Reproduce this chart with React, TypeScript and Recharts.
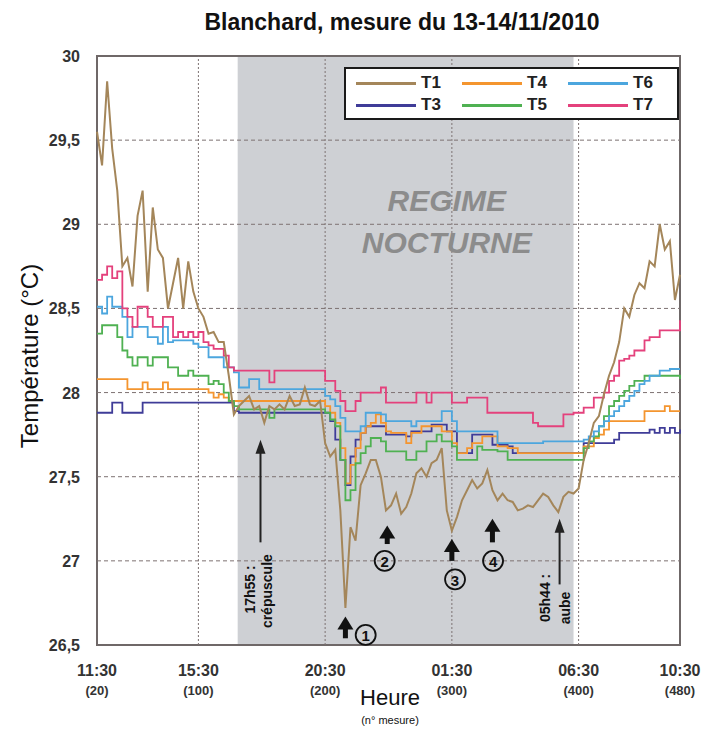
import React from 'react';
import { LineChart, Line, XAxis, YAxis, ReferenceArea, ReferenceLine, ReferenceDot } from 'recharts';

const FONT = '"Liberation Sans", Arial, sans-serif';

// n° mesure (one reading every 3 minutes), sampled every 4 readings
const measures = [
  20, 24, 28, 32, 36, 40, 44, 48, 52, 56,
  60, 64, 68, 72, 76, 80, 84, 88, 92, 96,
  100, 104, 108, 112, 116, 120, 124, 128, 132, 136,
  140, 144, 148, 152, 156, 160, 164, 168, 172, 176,
  180, 184, 188, 192, 196, 200, 204, 208, 212, 216,
  220, 224, 228, 232, 236, 240, 244, 248, 252, 256,
  260, 264, 268, 272, 276, 280, 284, 288, 292, 296,
  300, 304, 308, 312, 316, 320, 324, 328, 332, 336,
  340, 344, 348, 352, 356, 360, 364, 368, 372, 376,
  380, 384, 388, 392, 396, 400, 404, 408, 412, 416,
  420, 424, 428, 432, 436, 440, 444, 448, 452, 456,
  460, 464, 468, 472, 476, 480,
];

const t1 = [
  29.55, 29.35, 29.85, 29.45, 29.2, 28.75, 28.8, 28.63, 29.05, 29.2,
  28.6, 29.1, 28.85, 28.8, 28.5, 28.65, 28.8, 28.5, 28.78, 28.6,
  28.5, 28.45, 28.35, 28.36, 28.3, 28.3, 28.1, 27.87, 27.92, 27.95,
  27.98, 27.9, 27.92, 27.82, 27.92, 27.9, 27.93, 27.9, 27.98, 27.92,
  27.93, 28.03, 27.93, 27.92, 27.95, 27.7, 27.62, 27.66, 27.3, 26.72,
  27.2, 27.12, 27.45, 27.52, 27.6, 27.6, 27.5, 27.3, 27.33, 27.4,
  27.28, 27.32, 27.4, 27.52, 27.55, 27.5, 27.58, 27.6, 27.67, 27.3,
  27.18, 27.26, 27.36, 27.42, 27.48, 27.43, 27.46, 27.54, 27.42, 27.36,
  27.4, 27.36, 27.35, 27.3, 27.31, 27.33, 27.32, 27.36, 27.4, 27.38,
  27.33, 27.29, 27.38, 27.41, 27.4, 27.43, 27.6, 27.7, 27.82, 27.86,
  27.99, 28.1, 28.18, 28.3, 28.5, 28.45, 28.58, 28.65, 28.62, 28.78,
  28.75, 29.0, 28.85, 28.9, 28.55, 28.7,
];

const t3 = [
  27.88, 27.88, 27.88, 27.94, 27.94, 27.88, 27.88, 27.88, 27.88, 27.94,
  27.94, 27.94, 27.94, 27.94, 27.94, 27.94, 27.94, 27.94, 27.94, 27.94,
  27.94, 27.94, 27.94, 27.94, 27.94, 27.94, 27.94, 27.89, 27.88, 27.88,
  27.88, 27.88, 27.88, 27.88, 27.88, 27.88, 27.88, 27.88, 27.88, 27.88,
  27.88, 27.88, 27.88, 27.88, 27.88, 27.88, 27.83, 27.72, 27.6, 27.45,
  27.62, 27.72, 27.76, 27.8, 27.8, 27.8, 27.8, 27.75, 27.75, 27.75,
  27.75, 27.74, 27.77, 27.77, 27.77, 27.77, 27.81, 27.81, 27.81, 27.77,
  27.77, 27.64, 27.64, 27.64, 27.75, 27.75, 27.75, 27.75, 27.69, 27.69,
  27.69, 27.68, 27.64, 27.64, 27.64, 27.64, 27.64, 27.64, 27.64, 27.64,
  27.64, 27.64, 27.64, 27.64, 27.64, 27.64, 27.7, 27.7, 27.7, 27.7,
  27.7, 27.7, 27.72, 27.76, 27.76, 27.76, 27.76, 27.76, 27.76, 27.78,
  27.76, 27.79, 27.76, 27.79, 27.76, 27.78,
];

const t4 = [
  28.08, 28.08, 28.08, 28.08, 28.08, 28.08, 28.02, 28.02, 28.02, 28.06,
  28.02, 28.02, 28.02, 28.06, 28.02, 28.02, 28.02, 28.02, 28.02, 28.02,
  28.02, 28.02, 28.0, 27.97, 27.99, 27.97, 27.95, 27.95, 27.95, 27.95,
  27.95, 27.95, 27.95, 27.95, 27.95, 27.95, 27.95, 27.95, 27.95, 27.95,
  27.95, 27.95, 27.95, 27.95, 27.95, 27.92, 27.88, 27.82, 27.67, 27.46,
  27.57, 27.67, 27.76, 27.8, 27.82, 27.87, 27.82, 27.77, 27.76, 27.76,
  27.76, 27.7, 27.76, 27.76, 27.8, 27.8, 27.8, 27.8, 27.77, 27.77,
  27.7, 27.64, 27.64, 27.67, 27.7, 27.7, 27.74, 27.74, 27.74, 27.68,
  27.68, 27.67, 27.67, 27.64, 27.64, 27.64, 27.64, 27.64, 27.64, 27.64,
  27.64, 27.64, 27.64, 27.64, 27.64, 27.64, 27.68, 27.68, 27.73, 27.75,
  27.78, 27.83, 27.83, 27.83, 27.83, 27.83, 27.83, 27.83, 27.89, 27.89,
  27.89, 27.89, 27.92, 27.89, 27.89, 27.89,
];

const t5 = [
  28.35, 28.4, 28.4, 28.4, 28.33, 28.25, 28.21, 28.16, 28.21, 28.21,
  28.16, 28.21, 28.21, 28.21, 28.15, 28.15, 28.1, 28.1, 28.13, 28.1,
  28.1, 28.1, 28.05, 28.07, 28.05, 28.0, 27.95, 27.92, 27.9, 27.9,
  27.9, 27.9, 27.9, 27.9, 27.85, 27.9, 27.9, 27.9, 27.9, 27.9,
  27.9, 27.9, 27.9, 27.9, 27.9, 27.88, 27.84, 27.8, 27.6, 27.36,
  27.42, 27.58, 27.64, 27.68, 27.73, 27.73, 27.71, 27.65, 27.65, 27.65,
  27.65, 27.6, 27.6, 27.65, 27.65, 27.71, 27.71, 27.75, 27.71, 27.71,
  27.68, 27.6, 27.6, 27.6, 27.6, 27.68, 27.66, 27.66, 27.66, 27.65,
  27.65, 27.6, 27.6, 27.6, 27.6, 27.6, 27.6, 27.6, 27.6, 27.6,
  27.6, 27.6, 27.6, 27.6, 27.6, 27.6, 27.67, 27.71, 27.74, 27.8,
  27.86, 27.92, 27.95, 27.98, 28.01, 28.04, 28.07, 28.07, 28.1, 28.1,
  28.1, 28.1, 28.1, 28.1, 28.1, 28.08,
];

const t6 = [
  28.51, 28.47, 28.57, 28.51, 28.51, 28.45, 28.33, 28.39, 28.39, 28.39,
  28.33, 28.33, 28.29, 28.39, 28.3, 28.31, 28.31, 28.31, 28.31, 28.29,
  28.27, 28.27, 28.21, 28.21, 28.21, 28.15, 28.15, 28.12, 28.03, 28.03,
  28.08, 28.08, 28.02, 28.02, 28.02, 28.02, 28.02, 28.02, 28.02, 28.02,
  28.02, 28.02, 28.02, 28.02, 28.02, 27.98, 27.96, 27.92, 27.85, 27.77,
  27.77, 27.77, 27.8, 27.88, 27.88, 27.88, 27.87, 27.83, 27.83, 27.83,
  27.83, 27.83, 27.8, 27.83, 27.83, 27.83, 27.83, 27.83, 27.89, 27.89,
  27.83, 27.77, 27.77, 27.77, 27.77, 27.77, 27.77, 27.77, 27.77, 27.7,
  27.7, 27.7, 27.7, 27.7, 27.7, 27.7, 27.7, 27.7, 27.71, 27.71,
  27.71, 27.71, 27.71, 27.71, 27.71, 27.71, 27.72, 27.74, 27.77, 27.8,
  27.83, 27.86, 27.89, 27.92, 27.95, 27.98, 28.01, 28.05, 28.07, 28.1,
  28.1, 28.13, 28.13, 28.14, 28.14, 28.14,
];

const t7 = [
  28.67, 28.7, 28.75, 28.68, 28.72, 28.5, 28.45, 28.39, 28.51, 28.51,
  28.45, 28.39, 28.39, 28.45, 28.45, 28.33, 28.36, 28.33, 28.36, 28.33,
  28.36, 28.3, 28.28, 28.26, 28.26, 28.22, 28.15, 28.13, 28.13, 28.13,
  28.13, 28.13, 28.13, 28.13, 28.06, 28.13, 28.13, 28.13, 28.13, 28.13,
  28.13, 28.13, 28.13, 28.13, 28.13, 28.07, 28.07, 28.01, 27.95, 27.89,
  27.89, 27.95, 28.0, 28.0, 28.0, 28.0, 28.03, 27.94, 27.94, 27.94,
  27.94, 27.94, 27.94, 28.0, 28.0, 27.94, 28.0, 28.0, 28.0, 28.0,
  27.94, 27.94, 27.94, 27.97, 27.97, 27.97, 27.97, 27.88, 27.88, 27.88,
  27.88, 27.88, 27.88, 27.88, 27.88, 27.88, 27.82, 27.8, 27.8, 27.8,
  27.8, 27.8, 27.87, 27.87, 27.88, 27.88, 27.91, 27.91, 27.97, 27.97,
  28.0, 28.07, 28.1, 28.19, 28.2, 28.22, 28.25, 28.25, 28.31, 28.33,
  28.33, 28.37, 28.37, 28.37, 28.37, 28.43,
];

const tickMeasures = [20, 100, 200, 300, 400, 480];
const tickTimes = ['11:30', '15:30', '20:30', '01:30', '06:30', '10:30'];
const yTicks = [26.5, 27, 27.5, 28, 28.5, 29, 29.5, 30];
const gridX = [100, 200, 300, 400];
const gridY = [27, 27.5, 28, 28.5, 29, 29.5];
const night = { from: 131, to: 396 };

const series = [
  { key: 'T3', color: '#3f3c98', step: true },
  { key: 'T4', color: '#f4952f', step: true },
  { key: 'T5', color: '#4fb152', step: true },
  { key: 'T6', color: '#4ca6de', step: true },
  { key: 'T7', color: '#e4417c', step: true },
  { key: 'T1', color: '#a4865a', step: false },
];
const legendRows = [
  ['T1', 'T4', 'T6'],
  ['T3', 'T5', 'T7'],
];

// annotations, in data units (n° mesure, °C)
const thinArrows = [
  { m: 149, tip: 27.72, tail: 27.11 },
  { m: 385, tip: 27.25, tail: 26.86 },
];
const boldArrows = [
  { m: 216, tip: 26.67, tail: 26.54 },
  { m: 249, tip: 27.21, tail: 27.1 },
  { m: 300, tip: 27.13, tail: 27.0 },
  { m: 332, tip: 27.25, tail: 27.11 },
];
const circled = [
  { n: '1', m: 232, v: 26.56 },
  { n: '2', m: 247, v: 27.0 },
  { n: '3', m: 302.5, v: 26.89 },
  { n: '4', m: 332.5, v: 27.0 },
];
const sideNotes = [
  { text: '17h55 :', m: 140.7, v: 26.83 },
  { text: 'crépuscule', m: 154.1, v: 26.82 },
  { text: '05h44 :', m: 373.5, v: 26.78 },
  { text: 'aube', m: 389.3, v: 26.72 },
];
const nightText = [
  { text: 'REGIME', m: 296, v: 29.14 },
  { text: 'NOCTURNE', m: 296, v: 28.89 },
];

const data = measures.map((m, i) => ({
  m,
  T1: t1[i],
  T3: t3[i],
  T4: t4[i],
  T5: t5[i],
  T6: t6[i],
  T7: t7[i],
}));

const colorOf = (k: string) => series.find((s) => s.key === k)!.color;

function XTick({ x, y, payload }: any) {
  const i = tickMeasures.indexOf(payload.value);
  return (
    <g fontFamily={FONT} fontWeight="bold" fill="#333">
      <text x={x} y={y + 29} textAnchor="middle" fontSize={16}>
        {tickTimes[i]}
      </text>
      <text x={x} y={y + 48} textAnchor="middle" fontSize={13}>
        ({payload.value})
      </text>
    </g>
  );
}

function YTick({ x, y, payload }: any) {
  return (
    <text x={x - 15} y={y + 6} textAnchor="end" fontSize={16} fontWeight="bold" fill="#333" fontFamily={FONT}>
      {String(payload.value).replace('.', ',')}
    </text>
  );
}

function ThinArrow({ x1, y1, y2 }: any) {
  const top = Math.min(y1, y2);
  const bot = Math.max(y1, y2);
  return (
    <g>
      <line x1={x1} x2={x1} y1={top + 12} y2={bot} stroke="#222" strokeWidth={2} />
      <polygon points={`${x1},${top} ${x1 - 5},${top + 14} ${x1 + 5},${top + 14}`} fill="#222" />
    </g>
  );
}

function BoldArrow({ x1, y1, y2 }: any) {
  const top = Math.min(y1, y2);
  const bot = Math.max(y1, y2);
  return (
    <g>
      <rect x={x1 - 2.5} y={top + 10} width={5} height={bot - top - 10} fill="#111" />
      <polygon points={`${x1},${top} ${x1 - 8},${top + 13} ${x1 + 8},${top + 13}`} fill="#111" />
    </g>
  );
}

export default function App() {
  return (
    <div style={{ position: 'absolute', left: 0, top: 0, width: 704, height: 729, background: '#fff', fontFamily: FONT }}>
      <div
        style={{
          position: 'absolute', left: 402, top: 22, transform: 'translate(-50%, -50%)',
          fontSize: 23, fontWeight: 'bold', color: '#111', whiteSpace: 'nowrap',
        }}
      >
        Blanchard, mesure du 13-14/11/2010
      </div>
      <div
        style={{
          position: 'absolute', left: 30, top: 356, transform: 'translate(-50%, -50%) rotate(-90deg)',
          fontSize: 24, color: '#111', whiteSpace: 'nowrap',
        }}
      >
        Température (°C)
      </div>
      <div style={{ position: 'absolute', left: 390, top: 698, transform: 'translate(-50%, -50%)', fontSize: 22, color: '#111' }}>
        Heure
      </div>
      <div style={{ position: 'absolute', left: 390, top: 720, transform: 'translate(-50%, -50%)', fontSize: 11, color: '#111', whiteSpace: 'nowrap' }}>
        (n° mesure)
      </div>

      <LineChart width={704} height={729} data={data} margin={{ top: 56, right: 24, bottom: 0, left: 0 }}>
        <XAxis
          dataKey="m"
          type="number"
          domain={[20, 480]}
          ticks={tickMeasures}
          tick={<XTick />}
          tickLine={false}
          tickSize={0}
          axisLine={false}
          height={84}
          interval={0}
        />
        <YAxis
          type="number"
          domain={[26.5, 30]}
          ticks={yTicks}
          tick={<YTick />}
          tickLine={false}
          tickSize={0}
          axisLine={false}
          width={97}
          interval={0}
        />
        <ReferenceArea x1={night.from} x2={night.to} y1={26.5} y2={30} fill="#ced0d4" fillOpacity={1} stroke="none" />
        {gridY.map((v) => (
          <ReferenceLine key={'gy' + v} y={v} stroke="#7d7272" strokeDasharray="4 3" strokeWidth={1} />
        ))}
        {gridX.map((v) => (
          <ReferenceLine key={'gx' + v} x={v} stroke="#7d7272" strokeDasharray="2 2" strokeWidth={1} />
        ))}
        <ReferenceArea x1={20} x2={480} y1={26.5} y2={30} fill="none" stroke="#6f6868" strokeWidth={2} />

        {nightText.map((t) => (
          <ReferenceDot
            key={t.text}
            x={t.m}
            y={t.v}
            r={0}
            shape={(p: any) => (
              <text x={p.cx} y={p.cy} textAnchor="middle" dominantBaseline="central" fontSize={30}
                fontWeight="bold" fontStyle="italic" fill="#8c8c8c" fontFamily={FONT}>
                {t.text}
              </text>
            )}
          />
        ))}

        {series.map((s) => (
          <Line
            key={s.key}
            dataKey={s.key}
            type={s.step ? 'stepAfter' : 'linear'}
            stroke={s.color}
            strokeWidth={s.step ? 1.8 : 2}
            dot={false}
            activeDot={false}
            isAnimationActive={false}
          />
        ))}

        {thinArrows.map((a) => (
          <ReferenceLine
            key={'ta' + a.m}
            segment={[{ x: a.m, y: a.tip }, { x: a.m, y: a.tail }]}
            shape={(p: any) => <ThinArrow {...p} />}
          />
        ))}
        {boldArrows.map((a) => (
          <ReferenceLine
            key={'ba' + a.m}
            segment={[{ x: a.m, y: a.tip }, { x: a.m, y: a.tail }]}
            shape={(p: any) => <BoldArrow {...p} />}
          />
        ))}
        {circled.map((c) => (
          <ReferenceDot
            key={'c' + c.n}
            x={c.m}
            y={c.v}
            r={10}
            shape={(p: any) => (
              <g>
                <circle cx={p.cx} cy={p.cy} r={10} fill="none" stroke="#111" strokeWidth={1.8} />
                <text x={p.cx} y={p.cy + 1} textAnchor="middle" dominantBaseline="central" fontSize={15}
                  fontWeight="bold" fill="#111" fontFamily={FONT}>
                  {c.n}
                </text>
              </g>
            )}
          />
        ))}
        {sideNotes.map((t) => (
          <ReferenceDot
            key={t.text}
            x={t.m}
            y={t.v}
            r={0}
            shape={(p: any) => (
              <text x={p.cx} y={p.cy} textAnchor="middle" dominantBaseline="central" fontSize={14}
                fontWeight="bold" fill="#111" fontFamily={FONT}
                transform={`rotate(-90 ${p.cx} ${p.cy})`}>
                {t.text}
              </text>
            )}
          />
        ))}
      </LineChart>

      <div
        style={{
          position: 'absolute', left: 344, top: 67, width: 335, height: 53, boxSizing: 'border-box',
          border: '2px solid #1a1a1a', background: '#fff',
        }}
      >
        {legendRows.map((row, r) =>
          row.map((k, c) => (
            <div key={k} style={{ position: 'absolute', left: 10 + c * 106, top: 4 + r * 22, height: 20, display: 'flex', alignItems: 'center' }}>
              <div style={{ width: 60, height: 3, background: colorOf(k) }} />
              <span style={{ marginLeft: 5, fontSize: 17, fontWeight: 'bold', color: '#222' }}>{k}</span>
            </div>
          ))
        )}
      </div>
    </div>
  );
}
